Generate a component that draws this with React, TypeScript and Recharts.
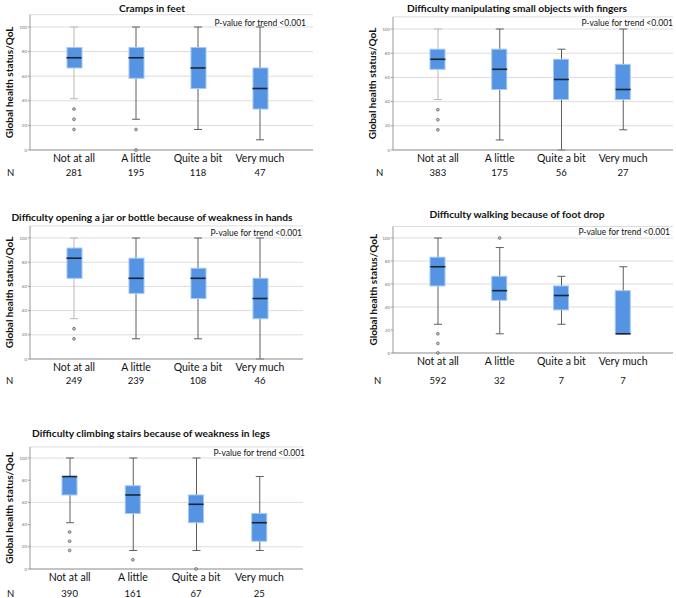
import { ComposedChart, Bar, Scatter, XAxis, YAxis, CartesianGrid } from "recharts";

const categories = ["Not at all", "A little", "Quite a bit", "Very much"];

// each row: [lower whisker, Q1, median, Q3, upper whisker]
const crampsStats = [
  [41.7, 66.7, 75, 83.3, 100],
  [25, 58.3, 75, 83.3, 100],
  [16.7, 50, 66.7, 83.3, 100],
  [8.3, 33.3, 50, 66.7, 100],
];
const crampsOutliers = [[33.3, 25, 16.7], [16.7, 0], [], []];
const crampsN = [281, 195, 118, 47];

const fingersStats = [
  [41.7, 66.7, 75, 83.3, 100],
  [8.3, 50, 66.7, 83.3, 100],
  [0, 41.7, 58.3, 75, 83.3],
  [16.7, 41.7, 50, 70.8, 100],
];
const fingersOutliers = [[33.3, 25, 16.7], [], [], []];
const fingersN = [383, 175, 56, 27];

const jarStats = [
  [33.3, 66.7, 83.3, 91.7, 100],
  [16.7, 54.2, 66.7, 83.3, 100],
  [16.7, 50, 66.7, 75, 100],
  [0, 33.3, 50, 66.7, 100],
];
const jarOutliers = [[25, 16.7], [], [], []];
const jarN = [249, 239, 108, 46];

const footDropStats = [
  [25, 58.3, 75, 83.3, 100],
  [16.7, 45.8, 54.2, 66.7, 91.7],
  [25, 37.5, 50, 58.3, 66.7],
  [16.7, 16.7, 16.7, 54.2, 75],
];
const footDropOutliers = [[16.7, 8.3, 0], [100], [], []];
const footDropN = [592, 32, 7, 7];

const stairsStats = [
  [41.7, 66.7, 83.3, 83.3, 100],
  [16.7, 50, 66.7, 75, 100],
  [16.7, 41.7, 58.3, 66.7, 100],
  [16.7, 25, 41.7, 50, 83.3],
];
const stairsOutliers = [[33.3, 25, 16.7], [8.3], [0], []];
const stairsN = [390, 161, 67, 25];

const yTicks = [0, 20, 40, 60, 80, 100];

const FONT = "Lato, 'Liberation Sans', sans-serif";
const BOX_FILL = "#5593e3";
const BOX_EDGE = "#a3c8f3";

function buildRows(stats: number[][], outliers: number[][], ns: number[]) {
  return categories.map((cat, i) => {
    const s = stats[i];
    return {
      cat,
      n: ns[i],
      whisker: [s[0], s[4]],
      box: [s[1], s[3]],
      median: s[2],
      o1: outliers[i][0] ?? null,
      o2: outliers[i][1] ?? null,
      o3: outliers[i][2] ?? null,
    };
  });
}

const panels = [
  {
    title: "Cramps in feet",
    rows: buildRows(crampsStats, crampsOutliers, crampsN),
    ox: 0, oy: 0, w: 338, axisX: 30, right: 313, y0: 150, y100: 27,
    padL: 13, padR: 22, nDy: 25.5, nX: 7,
    titleX: 152, titleY: 8, pRight: 306, pY: 23, lightFirst: true,
  },
  {
    title: "Difficulty manipulating small objects with fingers",
    rows: buildRows(fingersStats, fingersOutliers, fingersN),
    ox: 340, oy: 0, w: 336, axisX: 393, right: 673, y0: 150, y100: 29,
    padL: 14, padR: 19, nDy: 25.5, nX: 376,
    titleX: 517, titleY: 8, pRight: 673, pY: 23, lightFirst: true,
  },
  {
    title: "Difficulty opening a jar or bottle because of weakness in hands",
    rows: buildRows(jarStats, jarOutliers, jarN),
    ox: 0, oy: 190, w: 338, axisX: 30, right: 303, y0: 359, y100: 238,
    padL: 13, padR: 12, nDy: 24.5, nX: 6,
    titleX: 152, titleY: 217, pRight: 302, pY: 233, lightFirst: true,
  },
  {
    title: "Difficulty walking because of foot drop",
    rows: buildRows(footDropStats, footDropOutliers, footDropN),
    ox: 340, oy: 190, w: 336, axisX: 393, right: 673, y0: 353, y100: 238,
    padL: 14, padR: 19, nDy: 30.5, nX: 374,
    titleX: 517, titleY: 214, pRight: 670, pY: 232, lightFirst: false,
  },
  {
    title: "Difficulty climbing stairs because of weakness in legs",
    rows: buildRows(stairsStats, stairsOutliers, stairsN),
    ox: 0, oy: 400, w: 338, axisX: 30, right: 303, y0: 569, y100: 458,
    padL: 8, padR: 12, nDy: 27.5, nX: 7,
    titleX: 151, titleY: 433, pRight: 305, pY: 453, lightFirst: false,
  },
];

type Panel = (typeof panels)[number];

const XAXIS_H = 40;

function BoxPanel({ p }: { p: Panel }) {
  const top = p.y0 - 1.1 * (p.y0 - p.y100);
  const height = p.y0 - p.oy + XAXIS_H;

  const whiskerShape = (props: any) => {
    const { x, y, width, height: h, index } = props;
    const y1 = Math.min(y, y + h);
    const y2 = Math.max(y, y + h);
    const cx = x + width / 2;
    const col = p.lightFirst && index === 0 ? "#b8b8b8" : "#5e5e5e";
    return (
      <g stroke={col} strokeWidth={1}>
        <line x1={cx} x2={cx} y1={y1} y2={y2} />
        <line x1={x} x2={x + width} y1={y1} y2={y1} />
        <line x1={x} x2={x + width} y1={y2} y2={y2} />
      </g>
    );
  };

  const boxShape = (props: any) => {
    const { x, y, width, height: h } = props;
    return (
      <rect
        x={x}
        y={Math.min(y, y + h)}
        width={width}
        height={Math.abs(h)}
        fill={BOX_FILL}
        stroke={BOX_EDGE}
        strokeWidth={1}
      />
    );
  };

  const medianShape = (props: any) => {
    const { cx, cy } = props;
    if (cx == null || cy == null || isNaN(cy)) return <g />;
    return <line x1={cx - 7.5} x2={cx + 7.5} y1={cy} y2={cy} stroke="#1c2633" strokeWidth={1.6} />;
  };

  const outlierShape = (props: any) => {
    const { cx, cy } = props;
    if (cx == null || cy == null || isNaN(cy)) return <g />;
    return <circle cx={cx} cy={cy} r={1.4} fill="#c4c4c4" stroke="#6a6a6a" strokeWidth={0.8} />;
  };

  const tick = (props: any) => {
    const { x, y, payload, index } = props;
    return (
      <g fontFamily={FONT} fill="#111">
        <text x={x} y={y + 12} textAnchor="middle" fontSize={10.5}>
          {payload.value}
        </text>
        <text x={x} y={y + p.nDy} textAnchor="middle" fontSize={9.5}>
          {p.rows[index]?.n}
        </text>
        {index === 0 && (
          <text x={p.nX - p.ox} y={y + p.nDy} fontSize={9.5}>
            N
          </text>
        )}
      </g>
    );
  };

  const yLabel = (props: any) => {
    const vb = props.viewBox || {};
    const cx = p.axisX - p.ox - 20.5;
    const cy = (vb.y ?? top - p.oy) + (vb.height ?? p.y0 - top) / 2;
    return (
      <text
        x={cx}
        y={cy}
        transform={`rotate(-90 ${cx} ${cy})`}
        textAnchor="middle"
        dominantBaseline="central"
        fontFamily={FONT}
        fontWeight="bold"
        fontSize={10}
        fill="#111"
      >
        Global health status/QoL
      </text>
    );
  };

  return (
    <>
      <div style={{ position: "absolute", left: p.ox, top: p.oy }}>
        <ComposedChart
          width={p.w}
          height={height}
          data={p.rows}
          margin={{ top: top - p.oy, right: p.ox + p.w - p.right, left: 0, bottom: 0 }}
        >
          <CartesianGrid vertical={false} stroke="#dddddd" />
          <XAxis
            dataKey="cat"
            height={XAXIS_H}
            padding={{ left: p.padL, right: p.padR }}
            tickLine={false}
            tickSize={0}
            tickMargin={0}
            interval={0}
            axisLine={{ stroke: "#999" }}
            tick={tick}
          />
          <XAxis xAxisId={1} dataKey="cat" hide padding={{ left: p.padL, right: p.padR }} />
          <YAxis
            width={p.axisX - p.ox}
            domain={[0, 110]}
            ticks={yTicks}
            tickSize={2}
            tickMargin={1}
            axisLine={{ stroke: "#999" }}
            tickLine={{ stroke: "#999" }}
            tick={{ fontSize: 4.5, fill: "#777", fontFamily: FONT }}
            label={yLabel}
          />
          <Bar dataKey="whisker" barSize={8} shape={whiskerShape} isAnimationActive={false} />
          <Bar dataKey="box" xAxisId={1} barSize={15} shape={boxShape} isAnimationActive={false} />
          <Scatter dataKey="median" shape={medianShape} isAnimationActive={false} />
          <Scatter dataKey="o1" shape={outlierShape} isAnimationActive={false} />
          <Scatter dataKey="o2" shape={outlierShape} isAnimationActive={false} />
          <Scatter dataKey="o3" shape={outlierShape} isAnimationActive={false} />
        </ComposedChart>
      </div>
      <div
        style={{
          position: "absolute",
          left: p.titleX,
          top: p.titleY - 7,
          transform: "translateX(-50%)",
          whiteSpace: "nowrap",
          fontWeight: "bold",
          fontSize: 10.2,
          lineHeight: "14px",
          color: "#111",
        }}
      >
        {p.title}
      </div>
      <div
        style={{
          position: "absolute",
          right: 676 - p.pRight,
          top: p.pY - 6,
          whiteSpace: "nowrap",
          fontSize: 8.5,
          lineHeight: "12px",
          color: "#111",
        }}
      >
        P-value for trend &lt;0.001
      </div>
    </>
  );
}

export default function App() {
  return (
    <div
      style={{
        position: "absolute",
        left: 0,
        top: 0,
        width: 676,
        height: 598,
        overflow: "hidden",
        background: "#fff",
        fontFamily: FONT,
      }}
    >
      {panels.map((p) => (
        <BoxPanel key={p.title} p={p} />
      ))}
    </div>
  );
}
